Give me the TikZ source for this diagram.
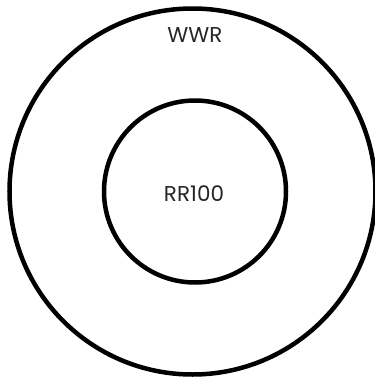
\documentclass[tikz,border=0pt]{standalone}
\usepackage{fontspec}
\setmainfont{Poppins}
\begin{document}
\begin{tikzpicture}[x=1pt,y=1pt,
  ring/.style={circle,draw=black,line width=4.5pt,minimum size=#1,inner sep=0pt},
  lbl/.style={font=\fontsize{21.5}{21.5}\selectfont,text=black!85,inner sep=0pt}]
\useasboundingbox (0,0) rectangle (375,-378);
\node[ring=366pt] (outer) at (192.5,-191.5) {};
\node[ring=182pt] (inner) at (195,-191.5) {};
\node[lbl] (wwr) at (195,-35) {WWR};
\node[lbl] (rr) at (194,-194) {RR100};
\end{tikzpicture}
\end{document}
